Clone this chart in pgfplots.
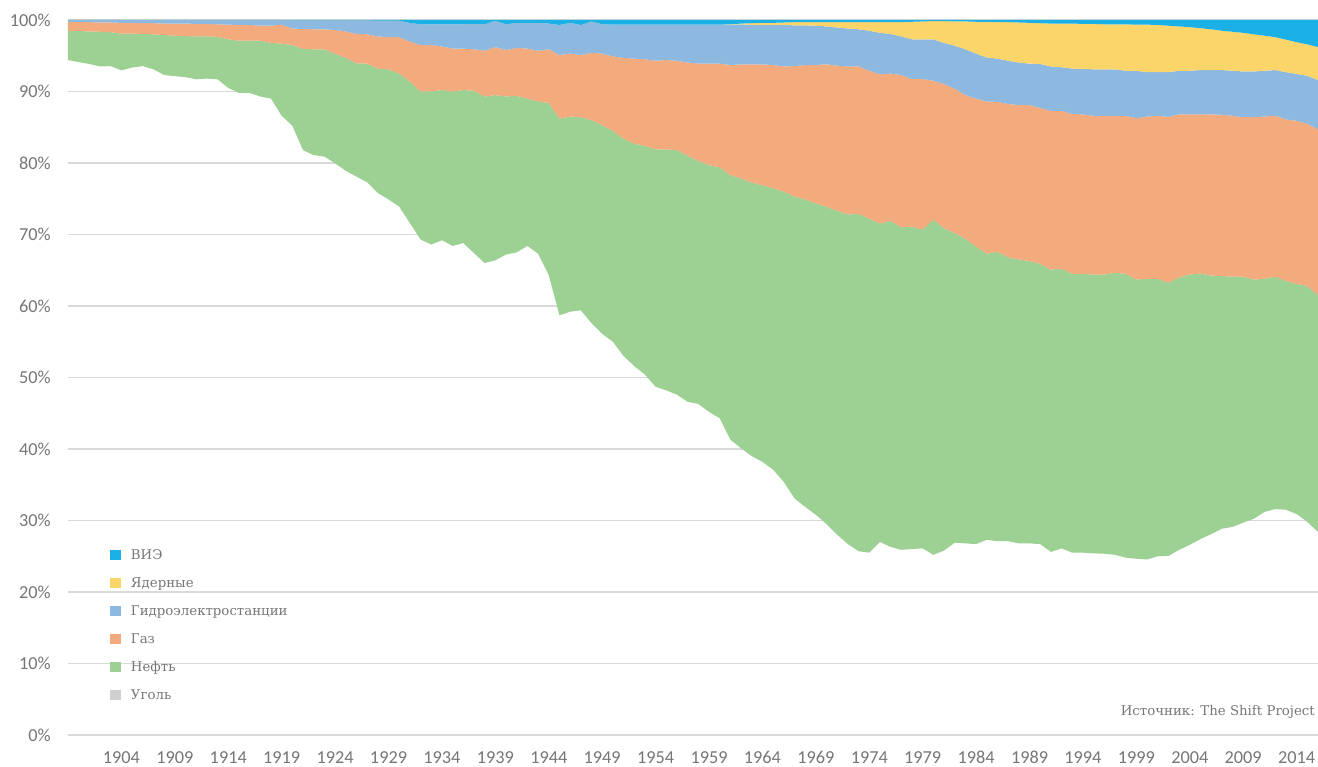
\documentclass[border=0pt]{standalone}
\usepackage{fontspec}
\setmainfont{DejaVu Serif}
\newfontfamily\tickfont{Carlito}
\usepackage{pgfplots}
\usepackage{pgfplotstable}
\pgfplotsset{compat=1.18}
\usepgfplotslibrary{fillbetween}
\definecolor{resc}{RGB}{27,176,230}
\definecolor{nucc}{RGB}{251,212,106}
\definecolor{hydc}{RGB}{141,185,224}
\definecolor{gasc}{RGB}{243,170,124}
\definecolor{oilc}{RGB}{157,208,147}
\definecolor{coalc}{RGB}{208,208,210}
\definecolor{gridc}{RGB}{217,217,217}
\definecolor{txtc}{RGB}{118,118,118}

% cumulative tops: c = coal, o = +oil, g = +gas, h = +hydro, n = +nuclear (rest up to 100 = RES)
\pgfplotstableread{
yr c o g h n
1899 94.4 98.5 99.75 100 100
1900 94.1 98.45 99.7 100 100
1901 93.85 98.4 99.7 100 100
1902 93.5 98.35 99.65 100 100
1903 93.55 98.3 99.65 100 100
1904 92.95 98.1 99.6 100 100
1905 93.35 98.1 99.6 100 100
1906 93.55 98.05 99.55 100 100
1907 93.1 98.0 99.55 100 100
1908 92.3 97.9 99.5 100 100
1909 92.15 97.8 99.5 100 100
1910 92.0 97.75 99.5 100 100
1911 91.7 97.7 99.45 100 100
1912 91.8 97.7 99.45 100 100
1913 91.7 97.65 99.4 100 100
1914 90.5 97.3 99.35 100 100
1915 89.8 97.1 99.3 100 100
1916 89.8 97.1 99.3 100 100
1917 89.3 97.1 99.2 100 100
1918 89.0 96.8 99.2 100 100
1919 86.6 96.7 99.35 100 100
1920 85.2 96.5 98.8 99.95 99.95
1921 81.8 95.95 98.75 99.95 99.95
1922 81.1 95.9 98.7 99.95 99.95
1923 80.9 95.9 98.7 99.95 99.95
1924 79.95 95.3 98.6 99.95 99.95
1925 78.9 94.7 98.4 99.95 99.95
1926 78.1 93.95 98.05 99.95 99.95
1927 77.3 93.9 98.0 99.95 99.95
1928 75.8 93.2 97.7 99.9 99.9
1929 74.9 93.1 97.6 99.9 99.9
1930 73.9 92.5 97.6 99.9 99.9
1931 71.6 91.4 97.0 99.6 99.6
1932 69.3 90.0 96.5 99.4 99.4
1933 68.6 90.0 96.5 99.4 99.4
1934 69.2 90.2 96.3 99.4 99.4
1935 68.4 90.0 96.0 99.4 99.4
1936 68.8 90.2 96.0 99.4 99.4
1937 67.4 90.1 95.9 99.45 99.45
1938 66.0 89.3 95.7 99.4 99.4
1939 66.4 89.5 96.2 99.9 99.9
1940 67.2 89.3 95.8 99.4 99.4
1941 67.5 89.4 96.1 99.6 99.6
1942 68.4 89.0 96.0 99.6 99.6
1943 67.3 88.6 95.7 99.6 99.6
1944 64.3 88.4 95.9 99.5 99.5
1945 58.7 86.2 95.1 99.3 99.3
1946 59.2 86.5 95.3 99.6 99.6
1947 59.4 86.4 95.1 99.3 99.3
1948 57.6 86.0 95.4 99.8 99.8
1949 56.1 85.3 95.3 99.4 99.4
1950 55.0 84.5 94.9 99.35 99.35
1951 53.0 83.4 94.7 99.35 99.35
1952 51.6 82.7 94.6 99.35 99.35
1953 50.4 82.4 94.5 99.35 99.35
1954 48.7 81.9 94.3 99.35 99.35
1955 48.2 81.9 94.4 99.35 99.35
1956 47.6 81.8 94.3 99.35 99.35
1957 46.6 81.0 94.05 99.35 99.35
1958 46.3 80.3 93.9 99.35 99.35
1959 45.2 79.7 93.9 99.35 99.35
1960 44.3 79.4 93.9 99.35 99.35
1961 41.3 78.3 93.7 99.35 99.4
1962 40.1 77.85 93.8 99.4 99.5
1963 39.0 77.25 93.8 99.3 99.55
1964 38.2 76.9 93.8 99.3 99.6
1965 37.1 76.45 93.7 99.3 99.6
1966 35.4 76.0 93.5 99.3 99.65
1967 33.1 75.3 93.55 99.25 99.7
1968 31.9 74.9 93.7 99.25 99.7
1969 30.8 74.35 93.7 99.2 99.7
1970 29.5 73.9 93.8 99.1 99.7
1971 28.0 73.3 93.6 98.95 99.7
1972 26.7 72.8 93.5 98.8 99.7
1973 25.7 72.9 93.5 98.7 99.7
1974 25.5 72.2 92.9 98.5 99.7
1975 27.0 71.55 92.4 98.2 99.7
1976 26.3 71.9 92.5 98.05 99.7
1977 25.9 71.0 92.3 97.7 99.7
1978 26.0 71.1 91.75 97.3 99.75
1979 26.1 70.7 91.75 97.3 99.8
1980 25.2 72.1 91.5 97.3 99.85
1981 25.8 70.85 91.05 96.8 99.85
1982 26.9 70.2 90.4 96.4 99.8
1983 26.8 69.4 89.5 95.9 99.8
1984 26.7 68.3 89.0 95.3 99.75
1985 27.3 67.3 88.6 94.75 99.75
1986 27.1 67.6 88.55 94.6 99.7
1987 27.1 66.8 88.25 94.3 99.7
1988 26.8 66.5 88.1 94.05 99.65
1989 26.8 66.3 88.1 93.9 99.6
1990 26.7 65.9 87.7 93.85 99.55
1991 25.6 65.1 87.3 93.5 99.5
1992 26.1 65.2 87.3 93.4 99.5
1993 25.5 64.5 86.85 93.2 99.5
1994 25.5 64.5 86.8 93.15 99.45
1995 25.4 64.4 86.6 93.1 99.45
1996 25.35 64.4 86.6 93.1 99.4
1997 25.2 64.65 86.6 93.1 99.4
1998 24.8 64.5 86.6 92.9 99.4
1999 24.65 63.7 86.25 92.9 99.35
2000 24.55 63.8 86.5 92.7 99.35
2001 25.0 63.8 86.6 92.7 99.3
2002 25.05 63.25 86.45 92.7 99.2
2003 25.9 64.0 86.8 92.9 99.1
2004 26.6 64.4 86.8 92.9 99.0
2005 27.4 64.55 86.8 93.0 98.85
2006 28.1 64.25 86.8 93.0 98.7
2007 28.85 64.2 86.75 93.0 98.5
2008 29.1 64.1 86.6 92.9 98.35
2009 29.7 64.1 86.4 92.8 98.2
2010 30.25 63.7 86.4 92.8 98.0
2011 31.2 63.8 86.5 92.9 97.8
2012 31.6 64.1 86.6 93.0 97.6
2013 31.5 63.5 86.1 92.7 97.25
2014 30.9 63.1 85.9 92.45 96.9
2015 29.8 62.8 85.5 92.2 96.6
2016 28.4 61.5 84.7 91.6 96.2
}\energy

\begin{document}
\begin{tikzpicture}
\begin{axis}[
  at={(0pt,0pt)}, anchor=south west,
  scale only axis, width=937.5pt, height=536.25pt,
  xmin=1899, xmax=2016, ymin=0, ymax=100,
  axis line style={draw=none},
  major tick length=0pt,
  xtick={1904,1909,...,2014},
  ytick={0,10,...,100},
  /pgf/number format/assume math mode=true,
  /pgf/number format/1000 sep={},
  yticklabel={\pgfmathprintnumber{\tick}\%},
  ymajorgrids, grid style={gridc, line width=0.9pt},
  every tick label/.append style={font=\tickfont\fontsize{13.7}{16}\selectfont, text=txtc},
  yticklabel style={anchor=east, inner sep=0pt, xshift=-12.75pt},
  xticklabel style={anchor=base, inner sep=0pt, yshift=-21.6pt},
  legend style={at={(rel axis cs:0.0336,0.2609)}, anchor=north west, draw=none, fill=none,
    inner sep=0pt, outer sep=0pt, row sep=11.2pt,
    font=\fontsize{10}{12}\selectfont, text=txtc,
    nodes={inner sep=0pt, text height=8.3pt, text depth=1.5pt},
    /tikz/every odd column/.append style={column sep=7.7pt}},
  legend cell align=left,
  legend image code/.code={\fill[#1, draw=none] (0pt,-4pt) rectangle (8pt,4pt);},
]
\addplot[draw=none, name path=pc, forget plot] table[x=yr, y=c] {\energy};
\addplot[draw=none, name path=po, forget plot] table[x=yr, y=o] {\energy};
\addplot[draw=none, name path=pg, forget plot] table[x=yr, y=g] {\energy};
\addplot[draw=none, name path=ph, forget plot] table[x=yr, y=h] {\energy};
\addplot[draw=none, name path=pn, forget plot] table[x=yr, y=n] {\energy};
\addplot[draw=none, name path=pt, forget plot] coordinates {(1899,100) (2016,100)};
\addplot[fill=oilc, draw=none, forget plot] fill between[of=pc and po];
\addplot[fill=gasc, draw=none, forget plot] fill between[of=po and pg];
\addplot[fill=hydc, draw=none, forget plot] fill between[of=pg and ph];
\addplot[fill=nucc, draw=none, forget plot] fill between[of=ph and pn];
\addplot[fill=resc, draw=none, forget plot] fill between[of=pn and pt];
\addlegendimage{fill=resc, draw=none}
\addlegendimage{fill=nucc, draw=none}
\addlegendimage{fill=hydc, draw=none}
\addlegendimage{fill=gasc, draw=none}
\addlegendimage{fill=oilc, draw=none}
\addlegendimage{fill=coalc, draw=none}
\legend{ВИЭ, Ядерные, Гидроэлектростанции, Газ, Нефть, Уголь}
\node[anchor=base east, inner sep=0pt, font=\fontsize{10}{12}\selectfont, text=txtc]
  at (rel axis cs:0.9976,0.027) {Источник: The Shift Project};
\end{axis}
\pgfresetboundingbox
\useasboundingbox (-51pt,-24pt) rectangle (937.5pt,551.25pt);
\end{tikzpicture}
\end{document}
